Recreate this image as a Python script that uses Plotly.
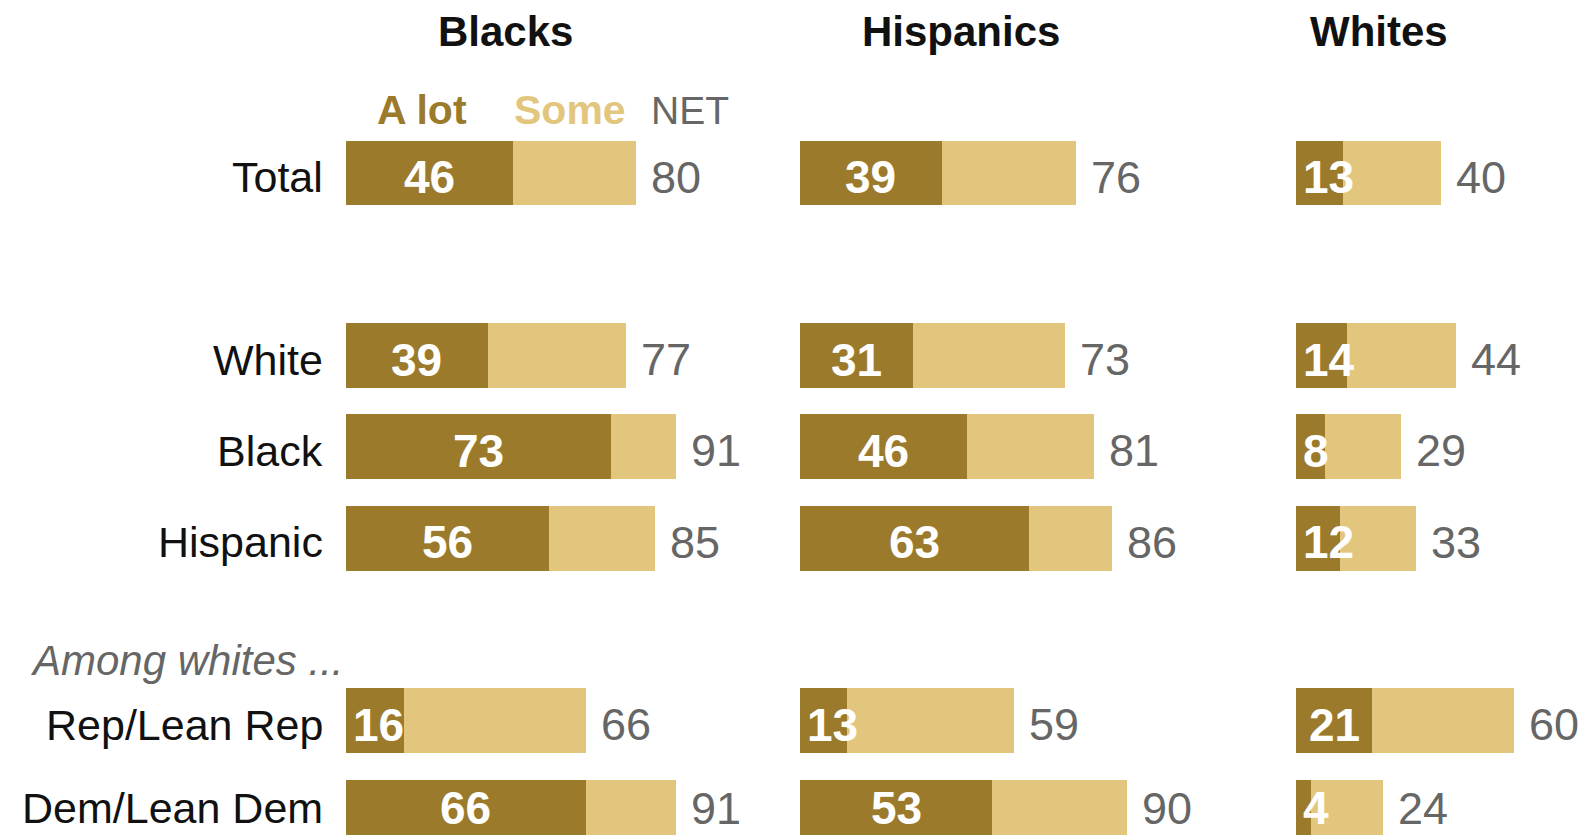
import plotly.graph_objects as go

W, H = 1590, 835
OFF = 8                      # default page body margin
WF, HF = W - OFF, H - OFF    # figure size so it ends at the window edge

categories = ["Total", "White", "Black", "Hispanic", "Rep/Lean Rep", "Dem/Lean Dem"]
positions = [0, 2, 3, 4, 6, 7]
panels = ["Blacks", "Hispanics", "Whites"]

blacks_alot = [46, 39, 73, 56, 16, 66]
blacks_some = [34, 38, 18, 29, 50, 25]
blacks_net = [80, 77, 91, 85, 66, 91]

hisp_alot = [39, 31, 46, 63, 13, 53]
hisp_some = [37, 42, 35, 23, 46, 37]
hisp_net = [76, 73, 81, 86, 59, 90]

whites_alot = [13, 14, 8, 12, 21, 4]
whites_some = [27, 30, 21, 21, 39, 20]
whites_net = [40, 44, 29, 33, 60, 24]

DARK = "#9B7A2C"
LIGHT = "#E3C67E"
GRAY = "#666666"
FONT = "Liberation Sans, Arial, sans-serif"

PX = 3.63          # pixels per percentage point
xmax = [100, 100, 80]
starts_px = [346, 800, 1296]
header_px = [505, 961, 1379]


def row_shift(p):
    # small downward nudge of row texts; last row nudged up to stay inside the frame
    return 4 if p == positions[-1] else -4


def px_x(px):
    return (px - OFF) / WF


def px_y(py):
    return 1 - (py - OFF) / HF


data = [(blacks_alot, blacks_some, blacks_net),
        (hisp_alot, hisp_some, hisp_net),
        (whites_alot, whites_some, whites_net)]

fig = go.Figure()
annotations = []

for i, (alot, some, net) in enumerate(data):
    xa = "x" if i == 0 else f"x{i+1}"
    fig.add_trace(go.Bar(y=positions, x=alot, orientation="h", marker_color=DARK,
                         width=0.71, xaxis=xa, yaxis="y", hoverinfo="skip",
                         marker_line_width=0, showlegend=False))
    fig.add_trace(go.Bar(y=positions, x=some, orientation="h", marker_color=LIGHT,
                         width=0.71, xaxis=xa, yaxis="y", hoverinfo="skip",
                         marker_line_width=0, showlegend=False))
    for p, a, n in zip(positions, alot, net):
        ys = row_shift(p)
        if a * PX < 62:
            annotations.append(dict(x=0, y=p, xref=xa, yref="y", text=f"<b>{a}</b>",
                                    xanchor="left", yanchor="middle", xshift=5, yshift=ys,
                                    showarrow=False,
                                    font=dict(family=FONT, size=46, color="white")))
        else:
            annotations.append(dict(x=a / 2, y=p, xref=xa, yref="y", text=f"<b>{a}</b>",
                                    xanchor="center", yanchor="middle", yshift=ys,
                                    showarrow=False,
                                    font=dict(family=FONT, size=46, color="white")))
        annotations.append(dict(x=n, y=p, xref=xa, yref="y", text=str(n),
                                xanchor="left", yanchor="middle", xshift=13, yshift=ys,
                                showarrow=False,
                                font=dict(family=FONT, size=45, color=GRAY)))
    annotations.append(dict(x=px_x(header_px[i]), y=px_y(32), xref="paper", yref="paper",
                            text=f"<b>{panels[i]}</b>", xanchor="center", yanchor="middle",
                            showarrow=False, font=dict(family=FONT, size=42, color="#111111")))

for p, c in zip(positions, categories):
    annotations.append(dict(x=px_x(325), y=p, xref="paper", yref="y", text=c,
                            xanchor="right", yanchor="middle", yshift=row_shift(p),
                            showarrow=False,
                            font=dict(family=FONT, size=43, color="#111111")))

# legend labels
annotations.append(dict(x=px_x(422), y=px_y(110), xref="paper", yref="paper", text="<b>A lot</b>",
                        xanchor="center", yanchor="middle", showarrow=False,
                        font=dict(family=FONT, size=41, color=DARK)))
annotations.append(dict(x=px_x(570), y=px_y(110), xref="paper", yref="paper", text="<b>Some</b>",
                        xanchor="center", yanchor="middle", showarrow=False,
                        font=dict(family=FONT, size=41, color=LIGHT)))
annotations.append(dict(x=px_x(690), y=px_y(110), xref="paper", yref="paper", text="NET",
                        xanchor="center", yanchor="middle", showarrow=False,
                        font=dict(family=FONT, size=39, color=GRAY)))
annotations.append(dict(x=px_x(28), y=px_y(660), xref="paper", yref="paper",
                        text="<i>Among whites ...</i>",
                        xanchor="left", yanchor="middle", showarrow=False,
                        font=dict(family=FONT, size=42, color=GRAY)))

ROW = 91.3
y_top = -(173 - OFF) / ROW
y_bot = (H - 173) / ROW

layout_axes = {}
for i in range(3):
    key = "xaxis" if i == 0 else f"xaxis{i+1}"
    d0 = px_x(starts_px[i])
    d1 = px_x(starts_px[i] + xmax[i] * PX)
    layout_axes[key] = dict(domain=[d0, d1], range=[0, xmax[i]], visible=False,
                            fixedrange=True, anchor="y")

fig.update_layout(
    width=WF, height=HF,
    margin=dict(l=0, r=0, t=0, b=0),
    paper_bgcolor="white", plot_bgcolor="white",
    barmode="stack",
    yaxis=dict(range=[y_bot, y_top], visible=False, domain=[0, 1], fixedrange=True),
    annotations=annotations,
    **layout_axes,
)

fig.write_html("out.html")
